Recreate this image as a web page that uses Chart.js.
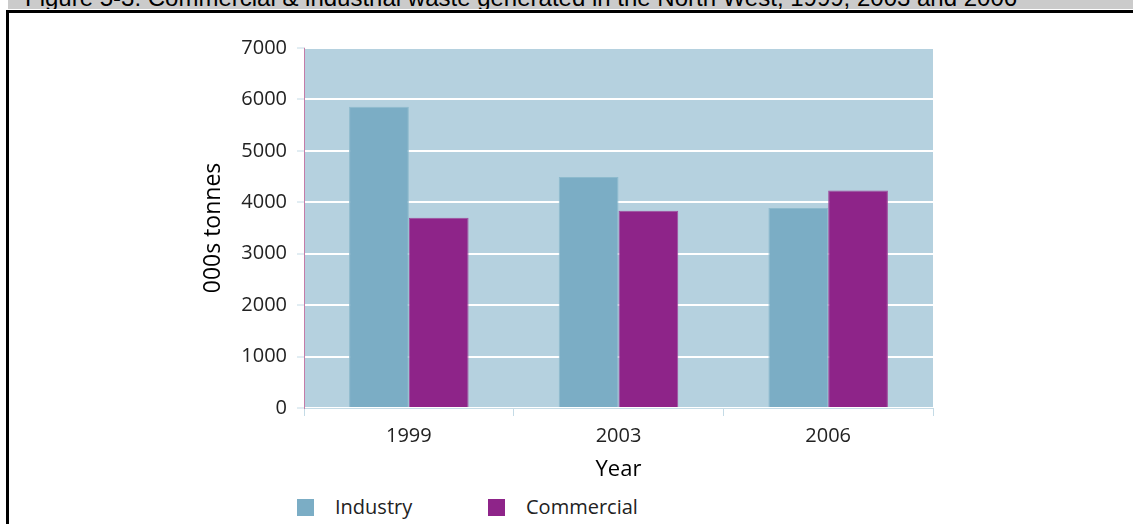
<!DOCTYPE html>
<html>
<head>
<meta charset="utf-8">
<script src="https://cdn.jsdelivr.net/npm/chart.js@4/dist/chart.umd.min.js"></script>
<style>
  body { margin: 0; background: #fff; width: 1133px; height: 524px; overflow: hidden; position: relative; font-family: 'Open Sans', Lato, sans-serif; }
  .band { position: absolute; left: 8px; top: 0; width: 1125px; height: 9px; background: #cbcbcb; overflow: hidden; }
  .band span { position: absolute; left: 17px; top: -14px; font: 24px 'Liberation Sans', Arial, sans-serif; line-height: 24px; color: #000; white-space: nowrap; }
  .frame { position: absolute; left: 6px; top: 10px; width: 1200px; height: 600px; border-left: 3px solid #000; border-top: 3px solid #000; }
  .wrap { position: absolute; left: 0; top: 0; width: 1133px; height: 484px; }
  .legend { position: absolute; top: 494px; left: 297px; font-size: 20px; color: #222; }
  .leg-item { position: absolute; top: 0; white-space: nowrap; line-height: 26px; }
  .leg-dot { display: inline-block; width: 17px; height: 17px; vertical-align: -2px; margin-right: 21px; }
</style>
</head>
<body>
<div class="band"><span>Figure 5-3: Commercial &amp; industrial waste generated in the North West, 1999, 2003 and 2006</span></div>
<div class="frame"></div>
<div class="wrap"><canvas id="grafico"></canvas></div>
<div class="legend" id="legenda"></div>
<script>
const anos = ['1999', '2003', '2006'];
const industria = [5860, 4490, 3890];
const comercial = [3700, 3835, 4230];
const ticksY = [0, 1000, 2000, 3000, 4000, 5000, 6000, 7000];

const corInd = '#7badc5';
const corCom = '#8e2489';
const fonte = "'Open Sans', Lato, sans-serif";

// fundo da area do grafico
const fundo = {
  id: 'fundo',
  beforeDraw(chart) {
    const { ctx, chartArea: a } = chart;
    ctx.save();
    ctx.fillStyle = '#b5d1df';
    ctx.fillRect(a.left, a.top, a.right - a.left, a.bottom - a.top);
    ctx.strokeStyle = '#f0dce6';
    ctx.lineWidth = 1;
    ctx.beginPath(); ctx.moveTo(a.left, a.top - 0.5); ctx.lineTo(a.right, a.top - 0.5); ctx.stroke();
    ctx.restore();
  }
};

new Chart(document.getElementById('grafico'), {
  type: 'bar',
  data: {
    labels: anos,
    datasets: [
      { label: 'Industry', data: industria, backgroundColor: corInd, borderColor: '#8dbacd', borderWidth: 1 },
      { label: 'Commercial', data: comercial, backgroundColor: corCom, borderColor: '#a04c9c', borderWidth: 1 }
    ]
  },
  options: {
    responsive: true, maintainAspectRatio: false, animation: false,
    layout: { padding: { left: 200, right: 200, top: 48, bottom: 0 } },
    datasets: { bar: { categoryPercentage: 0.57, barPercentage: 1.0 } },
    plugins: { legend: { display: false }, tooltip: { enabled: false } },
    scales: {
      x: {
        afterFit: s => { s.height = 76; },
        grid: { offset: true, drawOnChartArea: false, color: '#c4dbe6', tickLength: 8 },
        border: { color: '#c4dbe6' },
        ticks: { color: '#222', font: { family: fonte, size: 20 }, padding: 8 },
        title: { display: true, text: 'Year', color: '#000', font: { family: fonte, size: 22 }, padding: { top: 0, bottom: 1 } }
      },
      y: {
        min: 0, max: 7000,
        afterFit: s => { s.width = 104; },
        afterBuildTicks: s => { s.ticks = ticksY.map(v => ({ value: v })); },
        grid: { color: '#ffffff', lineWidth: 2, tickLength: 7, tickColor: '#c4dbe6', tickWidth: 1 },
        border: { color: '#c47ca8', width: 1 },
        ticks: { color: '#222', font: { family: fonte, size: 20 }, padding: 10, callback: v => String(v) },
        title: { display: true, text: '000s tonnes', color: '#000', font: { family: fonte, size: 23 }, padding: 0 }
      }
    }
  },
  plugins: [fundo]
});

const leg = document.getElementById('legenda');
[['Industry', corInd, 0], ['Commercial', corCom, 191]].forEach(([nome, cor, x]) => {
  const sp = document.createElement('span'); sp.className = 'leg-item'; sp.style.left = x + 'px';
  sp.innerHTML = `<span class="leg-dot" style="background:${cor}"></span>${nome}`;
  leg.appendChild(sp);
});
</script>
</body>
</html>
